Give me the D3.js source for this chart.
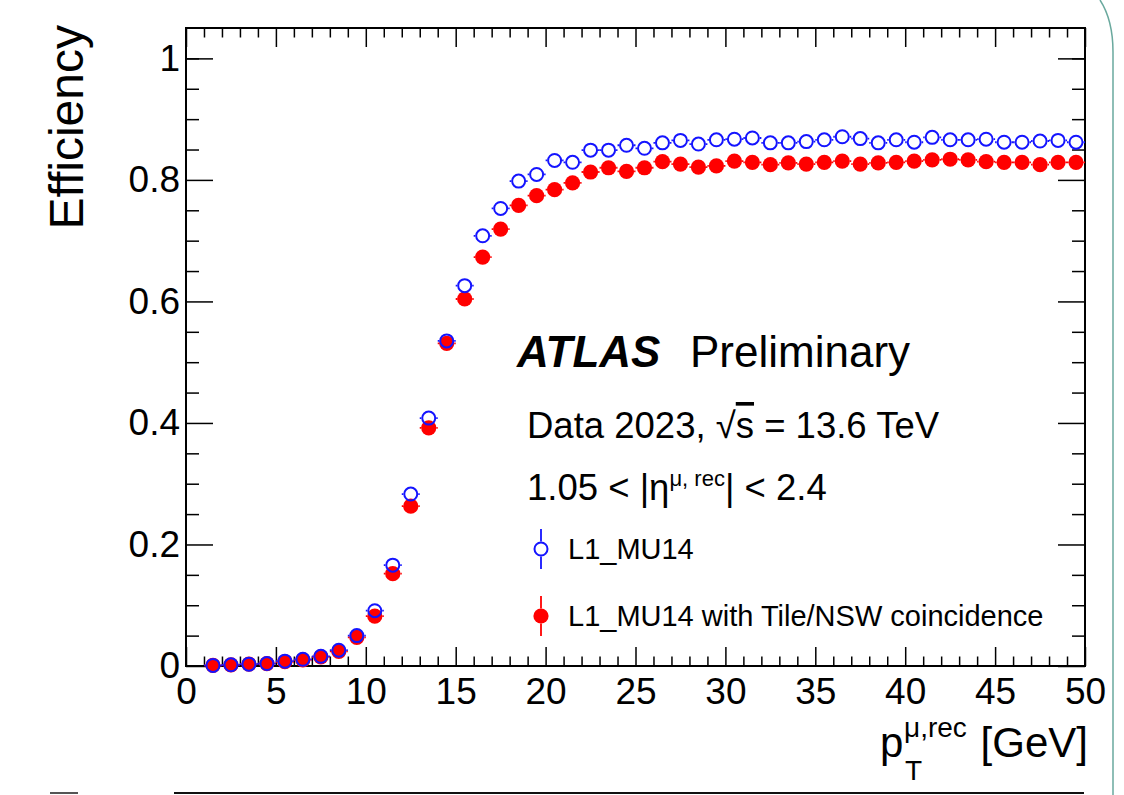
<!DOCTYPE html>
<html>
<head>
<meta charset="utf-8">
<script src="https://cdn.jsdelivr.net/npm/d3@7"></script>
<style>
	html, body { margin: 0; padding: 0; background: #fff; }
	svg { display: block; font-family: "Liberation Sans", Arial, Helvetica, sans-serif; }
</style>
</head>
<body>
<svg id="chart" width="1124" height="795"></svg>
<script>
// bin centres (GeV)
const binCenters = [1.5, 2.5, 3.5, 4.5, 5.5, 6.5, 7.5, 8.5, 9.5, 10.5,
	11.5, 12.5, 13.5, 14.5, 15.5, 16.5, 17.5, 18.5, 19.5, 20.5,
	21.5, 22.5, 23.5, 24.5, 25.5, 26.5, 27.5, 28.5, 29.5, 30.5,
	31.5, 32.5, 33.5, 34.5, 35.5, 36.5, 37.5, 38.5, 39.5, 40.5,
	41.5, 42.5, 43.5, 44.5, 45.5, 46.5, 47.5, 48.5, 49.5];
const binHalfWidth = 0.5;

// L1_MU14
const effMU14 = [0.001, 0.002, 0.003, 0.004, 0.008, 0.011, 0.016, 0.026, 0.050, 0.091,
	0.166, 0.283, 0.408, 0.535, 0.626, 0.708, 0.753, 0.798, 0.809, 0.832,
	0.829, 0.849, 0.849, 0.857, 0.852, 0.861, 0.865, 0.859, 0.866, 0.867,
	0.869, 0.861, 0.861, 0.863, 0.866, 0.871, 0.868, 0.861, 0.866, 0.862,
	0.870, 0.866, 0.866, 0.867, 0.862, 0.862, 0.864, 0.865, 0.862];

// L1_MU14 with Tile/NSW coincidence
const effCoinc = [0.001, 0.002, 0.003, 0.004, 0.007, 0.010, 0.015, 0.024, 0.047, 0.082,
	0.152, 0.263, 0.392, 0.531, 0.604, 0.673, 0.719, 0.758, 0.774, 0.784,
	0.795, 0.813, 0.820, 0.814, 0.820, 0.830, 0.826, 0.821, 0.823, 0.831,
	0.829, 0.825, 0.828, 0.826, 0.829, 0.831, 0.826, 0.828, 0.829, 0.831,
	0.833, 0.834, 0.833, 0.830, 0.829, 0.829, 0.825, 0.829, 0.829];

const xMajor = [0, 5, 10, 15, 20, 25, 30, 35, 40, 45, 50];
const xMinor = [1, 2, 3, 4, 6, 7, 8, 9, 11, 12, 13, 14, 16, 17, 18, 19, 21, 22, 23, 24,
	26, 27, 28, 29, 31, 32, 33, 34, 36, 37, 38, 39, 41, 42, 43, 44, 46, 47, 48, 49];
const yMajor = [0, 0.2, 0.4, 0.6, 0.8, 1];
const yMinor = [0.05, 0.1, 0.15, 0.25, 0.3, 0.35, 0.45, 0.5, 0.55, 0.65, 0.7, 0.75, 0.85, 0.9, 0.95, 1.0];

const BLUE = "#1414ff";
const RED = "#ff0000";
const R_OPEN = 7.5;   // outer edge of the open circle
const R_FULL = 7.6;

const svg = d3.select("#chart");
const frame = { left: 186, right: 1085, top: 28, bottom: 666 };

const x = d3.scaleLinear().domain([0, 50]).range([frame.left, frame.right]);
const y = d3.scaleLinear().domain([0, 1.05]).range([frame.bottom, frame.top]);

// slide leftovers round the figure
svg.append("path")
	.attr("d", "M1100,0 Q1113,20 1113,52 L1113,795")
	.attr("fill", "none")
	.attr("stroke", "#6aa99e")
	.attr("stroke-width", 1.5);
svg.append("line")
	.attr("x1", 174).attr("x2", 1084).attr("y1", 793).attr("y2", 793)
	.attr("stroke", "#111").attr("stroke-width", 2);
svg.append("line")
	.attr("x1", 50).attr("x2", 78).attr("y1", 793).attr("y2", 793)
	.attr("stroke", "#555").attr("stroke-width", 2);

// axes, ROOT style: ticks inside on all four sides
function styleAxis(g) {
	g.select(".domain").remove();
	g.selectAll("line").attr("stroke", "#000").attr("stroke-width", 1.5);
	g.selectAll("text")
		.attr("font-family", "'Liberation Sans', Arial, sans-serif")
		.attr("font-size", 37)
		.attr("fill", "#000");
}

svg.append("g").attr("transform", `translate(0,${frame.bottom})`)
	.call(d3.axisBottom(x).tickValues(xMajor).tickSize(-19).tickPadding(12).tickFormat(d3.format("d")))
	.call(styleAxis);
svg.append("g").attr("transform", `translate(0,${frame.bottom})`)
	.call(d3.axisBottom(x).tickValues(xMinor).tickSize(-9.5).tickFormat(""))
	.call(styleAxis);
svg.append("g").attr("transform", `translate(0,${frame.top})`)
	.call(d3.axisTop(x).tickValues(xMajor).tickSize(-19).tickFormat(""))
	.call(styleAxis);
svg.append("g").attr("transform", `translate(0,${frame.top})`)
	.call(d3.axisTop(x).tickValues(xMinor).tickSize(-9.5).tickFormat(""))
	.call(styleAxis);

svg.append("g").attr("transform", `translate(${frame.left},0)`)
	.call(d3.axisLeft(y).tickValues(yMajor).tickSize(-27).tickPadding(6).tickFormat(d3.format("~g")))
	.call(styleAxis);
svg.append("g").attr("transform", `translate(${frame.left},0)`)
	.call(d3.axisLeft(y).tickValues(yMinor).tickSize(-13).tickFormat(""))
	.call(styleAxis);
svg.append("g").attr("transform", `translate(${frame.right},0)`)
	.call(d3.axisRight(y).tickValues(yMajor).tickSize(-27).tickFormat(""))
	.call(styleAxis);
svg.append("g").attr("transform", `translate(${frame.right},0)`)
	.call(d3.axisRight(y).tickValues(yMinor).tickSize(-13).tickFormat(""))
	.call(styleAxis);

svg.append("rect")
	.attr("x", frame.left).attr("y", frame.top)
	.attr("width", frame.right - frame.left).attr("height", frame.bottom - frame.top)
	.attr("fill", "none").attr("stroke", "#000").attr("stroke-width", 2);

// data points: x error bars (stopped at the marker edge, as ROOT does) + markers
function drawSeries(values, color, filled) {
	const r = filled ? R_FULL : R_OPEN;
	const pts = binCenters.map((c, i) => ({ c, v: values[i] }));
	const g = svg.append("g");
	g.selectAll("path")
		.data(pts)
		.join("path")
		.attr("d", d => {
			const cx = x(d.c), cy = y(d.v);
			const x0 = x(d.c - binHalfWidth), x1 = x(d.c + binHalfWidth);
			return `M${x0},${cy}H${cx - r}M${cx + r},${cy}H${x1}`;
		})
		.attr("fill", "none")
		.attr("stroke", color)
		.attr("stroke-width", 1.8);
	g.selectAll("circle")
		.data(pts)
		.join("circle")
		.attr("cx", d => x(d.c))
		.attr("cy", d => y(d.v))
		.attr("r", filled ? r : r - 1)
		.attr("fill", filled ? color : "none")
		.attr("stroke", filled ? "none" : color)
		.attr("stroke-width", 2);
}

drawSeries(effCoinc, RED, true);
drawSeries(effMU14, BLUE, false);

// axis titles
svg.append("text")
	.attr("transform", "translate(83,25) rotate(-90)")
	.attr("text-anchor", "end")
	.attr("font-size", 48)
	.text("Efficiency");

svg.append("text").attr("x", 880).attr("y", 757).attr("font-size", 42).text("p");
svg.append("text").attr("x", 904).attr("y", 737).attr("font-size", 28).text("μ,rec");
svg.append("text").attr("x", 905).attr("y", 780).attr("font-size", 28).text("T");
svg.append("text").attr("x", 1088).attr("y", 757).attr("font-size", 42)
	.attr("text-anchor", "end").text("[GeV]");

// labels
svg.append("text").attr("x", 517).attr("y", 367)
	.attr("font-size", 44).attr("font-weight", "bold").attr("font-style", "italic")
	.text("ATLAS");
svg.append("text").attr("x", 690).attr("y", 367).attr("font-size", 44).text("Preliminary");

const t1 = svg.append("text").attr("x", 527).attr("y", 438).attr("font-size", 36.5);
t1.append("tspan").text("Data 2023, √");
t1.append("tspan").attr("text-decoration", "overline").text("s");
t1.append("tspan").text(" = 13.6 TeV");

const t2 = svg.append("text").attr("x", 527).attr("y", 500).attr("font-size", 36.5);
t2.append("tspan").text("1.05 < |η");
t2.append("tspan").attr("dy", -14).attr("font-size", 22).text("μ, rec");
t2.append("tspan").attr("dy", 14).text("| < 2.4");

// legend
const legendItems = [
	{ label: "L1_MU14", color: BLUE, filled: false, y: 549 },
	{ label: "L1_MU14 with Tile/NSW coincidence", color: RED, filled: true, y: 616 }
];
const leg = svg.append("g");
legendItems.forEach(item => {
	const r = item.filled ? R_FULL : R_OPEN;
	leg.append("path")
		.attr("d", `M541,${item.y - 20}V${item.y - r}M541,${item.y + r}V${item.y + 20}`)
		.attr("stroke", item.color).attr("stroke-width", 1.8);
	leg.append("circle")
		.attr("cx", 541).attr("cy", item.y)
		.attr("r", item.filled ? r : r - 1)
		.attr("fill", item.filled ? item.color : "none")
		.attr("stroke", item.filled ? "none" : item.color)
		.attr("stroke-width", 2);
	leg.append("text")
		.attr("x", 568).attr("y", item.y + 10)
		.attr("font-size", 29)
		.text(item.label);
});
</script>
</body>
</html>
